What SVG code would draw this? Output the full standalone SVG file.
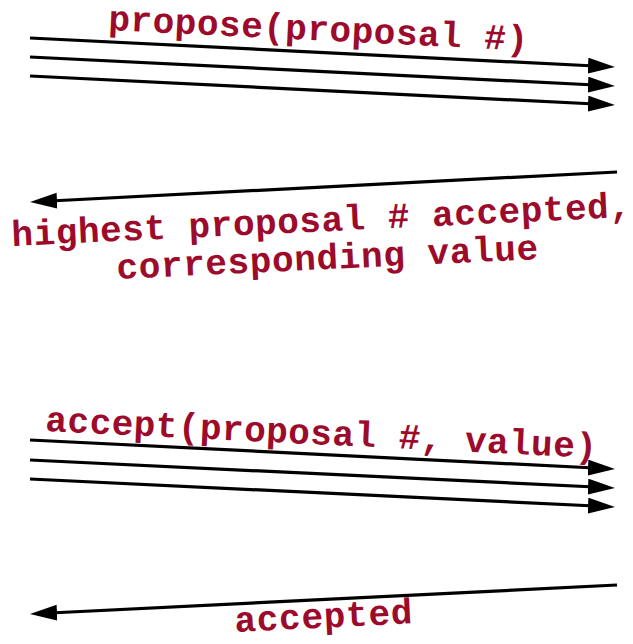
<svg xmlns="http://www.w3.org/2000/svg" width="633" height="644" viewBox="0 0 633 644">
  <style>
    .msg { stroke: #000; stroke-width: 3.2; fill: none; marker-end: url(#head); }
    .lbl { font-family: "Liberation Mono", "DejaVu Sans Mono", monospace; font-weight: bold; font-size: 36px; fill: #9c0b2b; }
  </style>
  <defs>
    <marker id="head" markerUnits="userSpaceOnUse" markerWidth="30" markerHeight="18" refX="7" refY="8" orient="auto">
      <path d="M0,0 L27,8 L0,16 Z" fill="#000"/>
    </marker>
  </defs>

  <g id="connectors">
    <!-- phase 1: prepare requests -->
    <line class="msg" x1="30" y1="38" x2="595" y2="66"/>
    <line class="msg" x1="30" y1="57" x2="595" y2="85"/>
    <line class="msg" x1="30" y1="76" x2="595" y2="104"/>
    <!-- phase 1: promise reply -->
    <line class="msg" x1="617" y1="172" x2="50" y2="201"/>
    <!-- phase 2: accept requests -->
    <line class="msg" x1="30" y1="440" x2="595" y2="468"/>
    <line class="msg" x1="30" y1="460" x2="595" y2="487"/>
    <line class="msg" x1="30" y1="479" x2="595" y2="506"/>
    <!-- phase 2: accepted reply -->
    <line class="msg" x1="617" y1="585" x2="50" y2="613"/>
  </g>

  <g id="propose">
    <text class="lbl" x="108" y="30" textLength="420" transform="rotate(2.8 108 30)">propose(proposal #)</text>
  </g>
  <g id="promise">
    <text class="lbl" x="12" y="246" textLength="620" transform="rotate(-2.7 12 246)">highest proposal # accepted,</text>
    <text class="lbl" x="117" y="279" textLength="422" transform="rotate(-2.7 117 279)">corresponding value</text>
  </g>
  <g id="accept">
    <text class="lbl" x="45" y="431" textLength="552" transform="rotate(2.8 45 431)">accept(proposal #, value)</text>
  </g>
  <g id="accepted">
    <text class="lbl" x="235" y="632" textLength="178" transform="rotate(-2.8 235 632)">accepted</text>
  </g>
</svg>
